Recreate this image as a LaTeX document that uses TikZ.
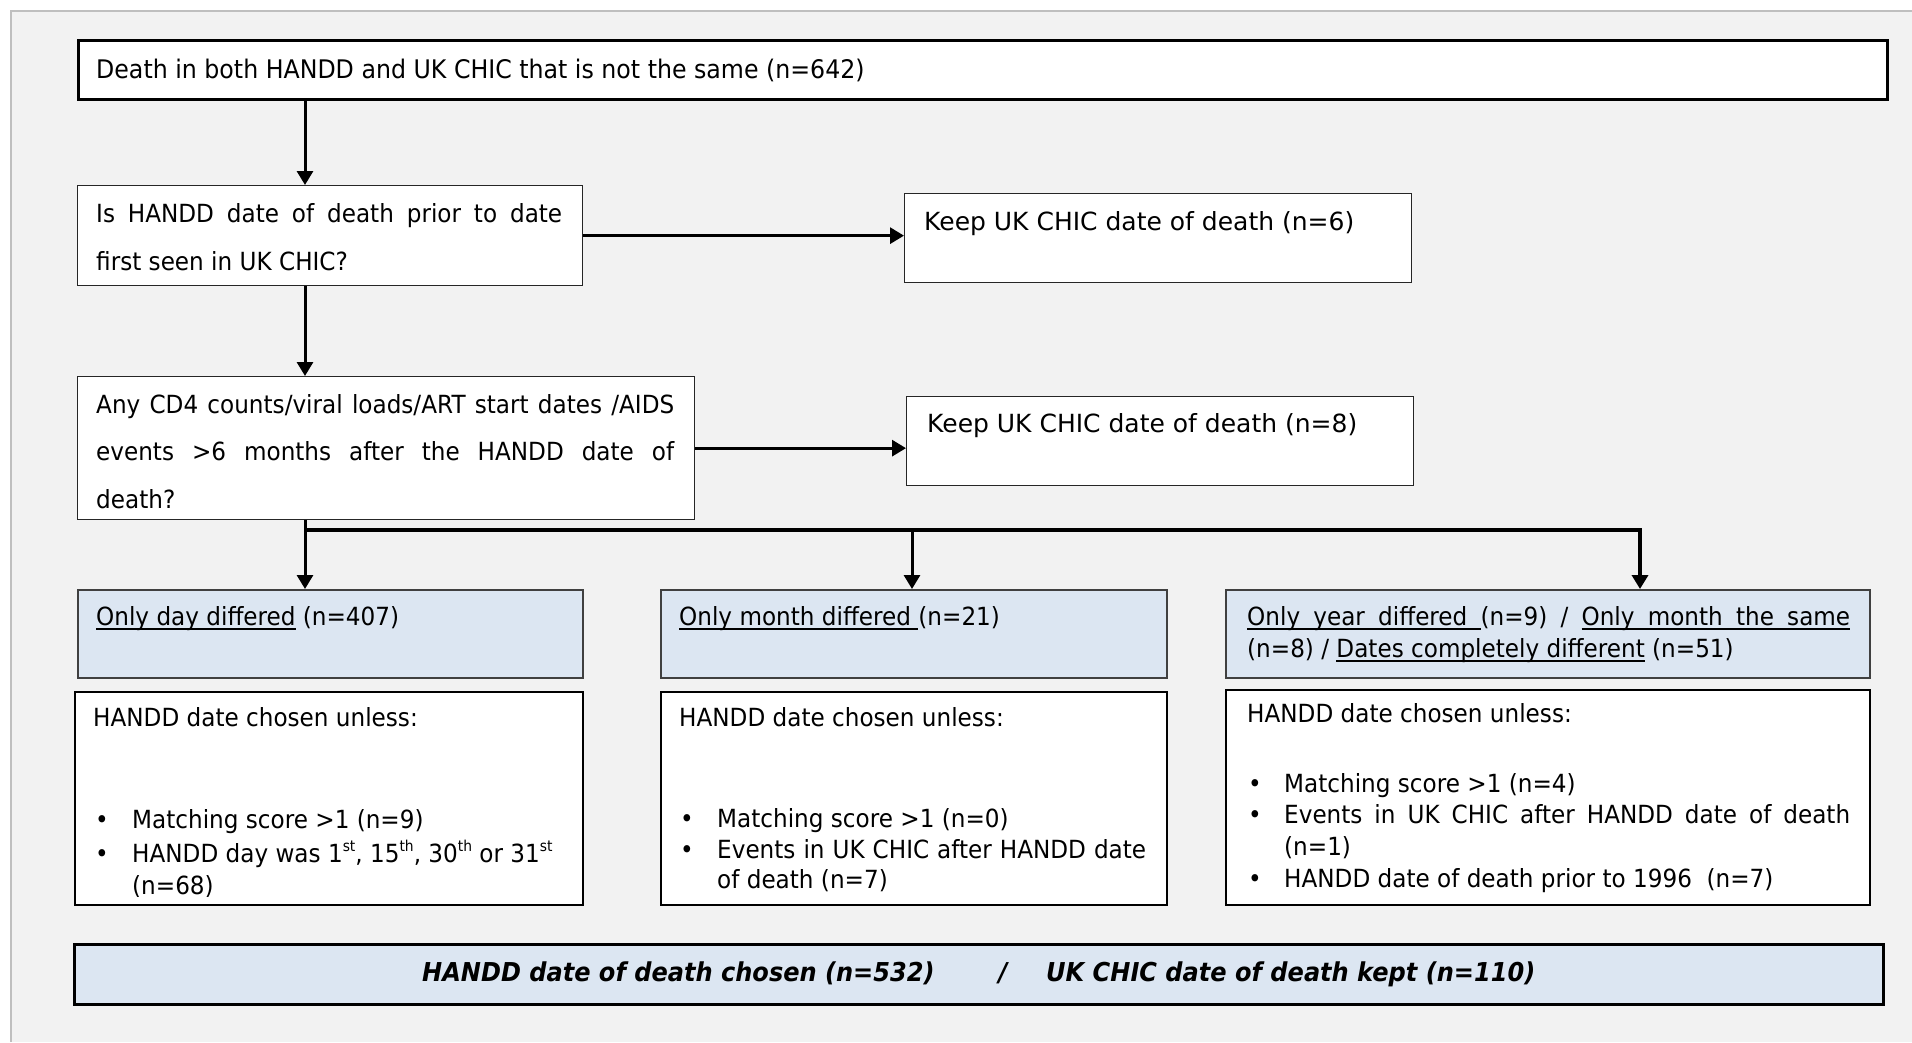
\documentclass[tikz,border=0pt]{standalone}
\usepackage{fontspec}
\setmainfont{DejaVu Sans}[FakeStretch=0.925]
\newfontfamily\verd{DejaVu Sans}
\usetikzlibrary{arrows.meta}
\definecolor{bgc}{HTML}{F2F2F2}
\definecolor{bluef}{HTML}{DCE6F2}
\definecolor{bordg}{HTML}{BFBFBF}
\newcommand\tsz{\fontsize{25}{30}\selectfont}
\newcommand\ulw[1]{\leavevmode\setbox0\hbox{#1}\rlap{\rule[-4.5pt]{\wd0}{1.5pt}}\box0\relax}
\newcommand\ulg{\leaders\hbox{\rule[-4.5pt]{0.25pt}{1.5pt}}\hfill}
\newcommand\sps[1]{\raisebox{0.42em}{\fontsize{15}{15}\selectfont #1}}
\tikzset{
  thickbox/.style={rectangle, draw=black, line width=3pt, fill=white, inner sep=0pt, anchor=north west},
  thinbox/.style={rectangle, draw=black!85, line width=1.3pt, fill=white, inner sep=0pt, anchor=north west},
  bluebox/.style={rectangle, draw=black!75, line width=1.6pt, fill=bluef, inner sep=0pt, anchor=north west},
  whitebox/.style={rectangle, draw=black, line width=2pt, fill=white, inner sep=0pt, anchor=north west},
  txt/.style={anchor=base west, inner sep=0pt, font=\tsz},
  ktxt/.style={anchor=base west, inner sep=0pt, font=\verd\tsz},
  btxt/.style={anchor=base west, inner sep=0pt, font=\fontsize{26}{30}\selectfont\bfseries\itshape},
  arr/.style={line width=3pt, -{Triangle[width=16pt,length=14pt]}},
  conn/.style={line width=3.5pt},
}
\begin{document}
\begin{tikzpicture}[x=1pt,y=-1pt]
\useasboundingbox (0,0) rectangle (1912,1042);
\fill[white] (0,0) rectangle (1912,1042);
\fill[bgc] (11,11) rectangle (1912,1042);
\draw[bordg, line width=2.5pt] (11,1042) -- (11,11) -- (1912,11);

% boxes
\node[thickbox, minimum width=1809pt, minimum height=59pt] (top) at (77,39) {};
\node[thinbox, minimum width=505pt, minimum height=100pt] (q1) at (77,185) {};
\node[thinbox, minimum width=507pt, minimum height=89pt] (keep1) at (904,193) {};
\node[thinbox, minimum width=617pt, minimum height=143pt] (q2) at (77,376) {};
\node[thinbox, minimum width=507pt, minimum height=89pt] (keep2) at (906,396) {};
\node[bluebox, minimum width=505pt, minimum height=88pt] (blue1) at (77,589) {};
\node[bluebox, minimum width=506pt, minimum height=88pt] (blue2) at (660,589) {};
\node[bluebox, minimum width=644pt, minimum height=88pt] (blue3) at (1225,589) {};
\node[whitebox, minimum width=508pt, minimum height=213pt] (white1) at (74,691) {};
\node[whitebox, minimum width=506pt, minimum height=213pt] (white2) at (660,691) {};
\node[whitebox, minimum width=644pt, minimum height=215pt] (white3) at (1225,689) {};
\node[thickbox, fill=bluef, minimum width=1809pt, minimum height=60pt] (final) at (73,943) {};

% texts
\node[txt, font=\fontsize{25.6}{30}\selectfont] (ttop) at (96,78) {Death in both HANDD and UK CHIC that is not the same (n=642)};
\node[txt] (tq1a) at (96,222) {\makebox[466pt][s]{Is HANDD date of death prior to date}};
\node[txt] (tq1b) at (96,270) {first seen in UK CHIC?};
\node[ktxt] (tk1) at (924,230) {Keep UK CHIC date of death (n=6)};
\node[txt] (tq2a) at (96,413) {\makebox[578pt][s]{Any CD4 counts/viral loads/ART start dates /AIDS}};
\node[txt] (tq2b) at (96,460.5) {\makebox[578pt][s]{events >6 months after the HANDD date of}};
\node[txt] (tq2c) at (96,508) {death?};
\node[ktxt] (tk2) at (927,432) {Keep UK CHIC date of death (n=8)};

\node[txt] (tb1) at (96,625) {\ulw{Only day differed} (n=407)};
\node[txt] (tb2) at (679,625) {\ulw{Only month differed\ }(n=21)};
\node[txt] (tb3a) at (1247,625) {\hbox to 603pt{\ulw{Only}\ulg\ulw{year}\ulg\ulw{differed}\ulg(n=9)\hfill/\hfill\ulw{Only}\ulg\ulw{month}\ulg\ulw{the}\ulg\ulw{same}}};
\node[txt] (tb3b) at (1247,657) {(n=8) / \ulw{Dates completely different} (n=51)};

\begin{scope}
\clip (75,692) rectangle (581,896.5);
\node[txt] (tw1h) at (93,726) {HANDD date chosen unless:};
\node[txt] (tw1b1) at (95,828) {•};
\node[txt] (tw1t1) at (132,828) {Matching score >1 (n=9)};
\node[txt] (tw1b2) at (95,862) {•};
\node[txt] (tw1t2) at (132,862) {HANDD day was 1\sps{st}, 15\sps{th}, 30\sps{th} or 31\sps{st}};
\node[txt] (tw1t3) at (132,894) {(n=68)};
\end{scope}

\node[txt] (tw2h) at (679,726) {HANDD date chosen unless:};
\node[txt] (tw2b1) at (680,827) {•};
\node[txt] (tw2t1) at (717,827) {Matching score >1 (n=0)};
\node[txt] (tw2b2) at (680,858) {•};
\node[txt] (tw2t2) at (717,858) {\makebox[429pt][s]{Events in UK CHIC after HANDD date}};
\node[txt] (tw2t3) at (717,888) {of death (n=7)};

\node[txt] (tw3h) at (1247,722) {HANDD date chosen unless:};
\node[txt] (tw3b1) at (1248,792) {•};
\node[txt] (tw3t1) at (1284,792) {Matching score >1 (n=4)};
\node[txt] (tw3b2) at (1248,823) {•};
\node[txt] (tw3t2) at (1284,823) {\makebox[566pt][s]{Events in UK CHIC after HANDD date of death}};
\node[txt] (tw3t3) at (1284,855) {(n=1)};
\node[txt] (tw3b3) at (1248,887) {•};
\node[txt] (tw3t4) at (1284,887) {HANDD date of death prior to 1996\ \ (n=7)};

\node[btxt] (tfa) at (422,981) {HANDD date of death chosen (n=532)};
\node[btxt, anchor=base] (tfs) at (1003,981) {/};
\node[btxt] (tfb) at (1046,981) {UK CHIC date of death kept (n=110)};

% connectors
\coordinate (b1) at (305,530);
\coordinate (b2) at (912,530);
\coordinate (b3) at (1640,530);
\draw[arr] (top.south -| b1) -- (q1.north -| b1);
\draw[arr] (q1.south -| b1) -- (q2.north -| b1);
\draw[arr] (q1.east) -- (q1.east -| keep1.west);
\draw[arr] (q2.east) -- (q2.east -| keep2.west);
\draw[arr] (q2.south -| b1) -- (blue1.north -| b1);
\draw[conn, arr, line width=3.5pt] (b1) -- (b3) -- (blue3.north -| b3);
\draw[arr] (b2) -- (blue2.north -| b2);
\end{tikzpicture}
\end{document}
